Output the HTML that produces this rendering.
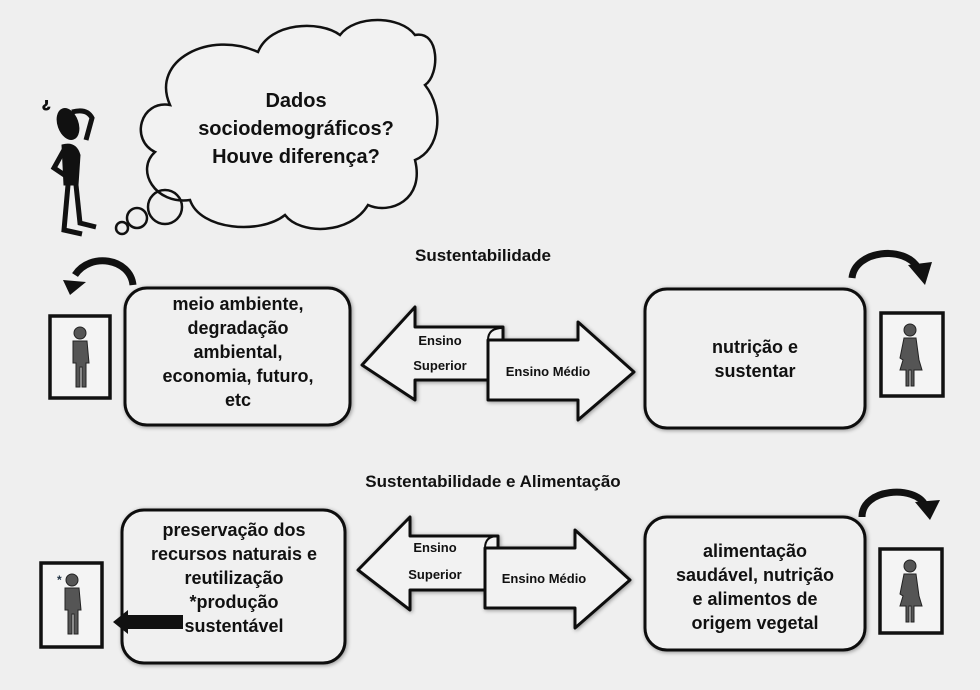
<!DOCTYPE html>
<html><head><meta charset="utf-8"><style>
html,body{margin:0;padding:0;background:#efefef;}
svg{display:block}
text{font-family:"Liberation Sans",sans-serif;font-weight:bold;fill:#111;}
</style></head><body>
<svg width="980" height="690" viewBox="0 0 980 690" xmlns="http://www.w3.org/2000/svg">
<rect width="980" height="690" fill="#efefef"/>
<defs>
<filter id="sh" x="-10%" y="-10%" width="120%" height="120%"><feGaussianBlur in="SourceAlpha" stdDeviation="2"/><feOffset dx="1" dy="1"/><feComponentTransfer><feFuncA type="linear" slope="0.4"/></feComponentTransfer><feMerge><feMergeNode/><feMergeNode in="SourceGraphic"/></feMerge></filter>
<g id="man"><circle cx="0" cy="-30" r="6" fill="#555" stroke="#222"/><path d="M-7,-22 h14 l2,22 h-3 v24 h-4 v-20 h-2 v20 h-4 v-24 h-3 z" fill="#555" stroke="#222"/></g>
<g id="woman"><circle cx="0" cy="-30" r="6" fill="#555" stroke="#222"/><path d="M-6,-22 h12 l3,22 l3,10 h-8 v16 h-3 v-16 h-2 v16 h-3 v-16 h-6 l3,-10 l-3,-2 z" fill="#555" stroke="#222"/></g>
</defs>

<path d="M170,105 C150,60 210,30 258,52 C270,22 320,20 340,35 C355,15 400,15 415,35 C440,30 440,75 425,85 C445,110 440,150 415,160 C425,200 390,215 368,205 C350,235 300,235 285,215 C260,235 200,230 190,200 C155,205 135,170 155,152 C130,140 140,100 170,105 Z" fill="#f2f2f2" stroke="#111" stroke-width="2.5"/>
<circle cx="165" cy="207" r="17" fill="none" stroke="#111" stroke-width="2.5"/>
<circle cx="137" cy="218" r="10" fill="none" stroke="#111" stroke-width="2.5"/>
<circle cx="122" cy="228" r="6" fill="none" stroke="#111" stroke-width="2.5"/>
<text x="296" y="107" font-size="20" text-anchor="middle">Dados</text>
<text x="296" y="135" font-size="20" text-anchor="middle">sociodemográficos?</text>
<text x="296" y="163" font-size="20" text-anchor="middle">Houve diferença?</text>

<g fill="#111" stroke="#111">
<ellipse cx="68" cy="124" rx="10" ry="16" transform="rotate(-20 68 124)"/>
<path d="M72,112 q15,-4 20,6 l-6,22" fill="none" stroke-width="5"/>
<path d="M62,145 q14,-4 18,10 l-2,30 h-14 z"/>
<path d="M64,150 l-10,18 l12,8" fill="none" stroke-width="5"/>
<path d="M68,185 l-4,45 l18,4 M76,185 l4,38 l16,4" fill="none" stroke-width="5"/>
<text x="42" y="108" font-size="14" style="fill:#111">¿</text>
</g>

<text x="483" y="261" font-size="17" text-anchor="middle">Sustentabilidade</text>
<text x="493" y="487" font-size="17" text-anchor="middle">Sustentabilidade e Alimentação</text>

<g fill="#f0f0f0" stroke="#111" stroke-width="3" filter="url(#sh)">
<rect x="125" y="288" width="225" height="137" rx="22"/>
<rect x="645" y="289" width="220" height="139" rx="22"/>
<rect x="122" y="510" width="223" height="153" rx="22"/>
<rect x="645" y="517" width="220" height="133" rx="22"/>
</g>
<g font-size="18" text-anchor="middle">
<text x="238" y="310">meio ambiente,</text>
<text x="238" y="334">degradação</text>
<text x="238" y="358">ambiental,</text>
<text x="238" y="382">economia,  futuro,</text>
<text x="238" y="406">etc</text>
<text x="755" y="353">nutrição e</text>
<text x="755" y="377">sustentar</text>
<text x="234" y="536">preservação dos</text>
<text x="234" y="560">recursos naturais e</text>
<text x="234" y="584">reutilização</text>
<text x="234" y="608">*produção</text>
<text x="234" y="632">sustentável</text>
<text x="755" y="557">alimentação</text>
<text x="755" y="581">saudável, nutrição</text>
<text x="755" y="605">e alimentos de</text>
<text x="755" y="629">origem vegetal</text>
</g>

<g filter="url(#sh)">
<path d="M362,365 L415,307 L415,327 L503,327 L503,380 L415,380 L415,400 Z" fill="#f2f2f2" stroke="#111" stroke-width="3" stroke-linejoin="round"/>
<path d="M488,340 L578,340 L578,322 L634,372 L578,420 L578,400 L488,400 Z" fill="#f2f2f2" stroke="#111" stroke-width="3" stroke-linejoin="round"/>
<path d="M488,340 q0,-12 15,-12" fill="none" stroke="#111" stroke-width="2"/>
</g>
<text x="440" y="345" font-size="13" text-anchor="middle">Ensino</text>
<text x="440" y="370" font-size="13" text-anchor="middle">Superior</text>
<text x="548" y="376" font-size="13" text-anchor="middle">Ensino Médio</text>

<g filter="url(#sh)">
<path d="M358,570 L410,517 L410,536 L498,536 L498,590 L410,590 L410,610 Z" fill="#f2f2f2" stroke="#111" stroke-width="3" stroke-linejoin="round"/>
<path d="M485,548 L575,548 L575,530 L630,580 L575,628 L575,608 L485,608 Z" fill="#f2f2f2" stroke="#111" stroke-width="3" stroke-linejoin="round"/>
<path d="M485,548 q0,-12 13,-12" fill="none" stroke="#111" stroke-width="2"/>
</g>
<text x="435" y="552" font-size="13" text-anchor="middle">Ensino</text>
<text x="435" y="579" font-size="13" text-anchor="middle">Superior</text>
<text x="544" y="583" font-size="13" text-anchor="middle">Ensino Médio</text>

<g fill="#f4f4f4" stroke="#111" stroke-width="3.5">
<rect x="50" y="316" width="60" height="82"/>
<rect x="41" y="563" width="61" height="84"/>
<rect x="881" y="313" width="62" height="83"/>
<rect x="880" y="549" width="62" height="84"/>
</g>
<use href="#man" x="80" y="363"/>
<use href="#man" x="72" y="610"/>
<use href="#woman" x="910" y="360"/>
<use href="#woman" x="910" y="596"/>
<text x="57" y="584" font-size="12" style="fill:#234">*</text>

<g fill="none" stroke="#111" stroke-width="7">
<path d="M133,285 C130,258 90,252 75,275"/>
<path d="M852,278 C855,250 905,245 918,268"/>
<path d="M862,517 C862,488 915,485 925,505"/>
</g>
<g fill="#111">
<polygon points="63,280 86,282 70,295"/>
<polygon points="908,265 932,262 925,285"/>
<polygon points="915,502 940,500 930,520"/>
<rect x="125" y="615" width="58" height="14"/>
<polygon points="113,622 128,610 128,634"/>
</g>
</svg>
</body></html>
